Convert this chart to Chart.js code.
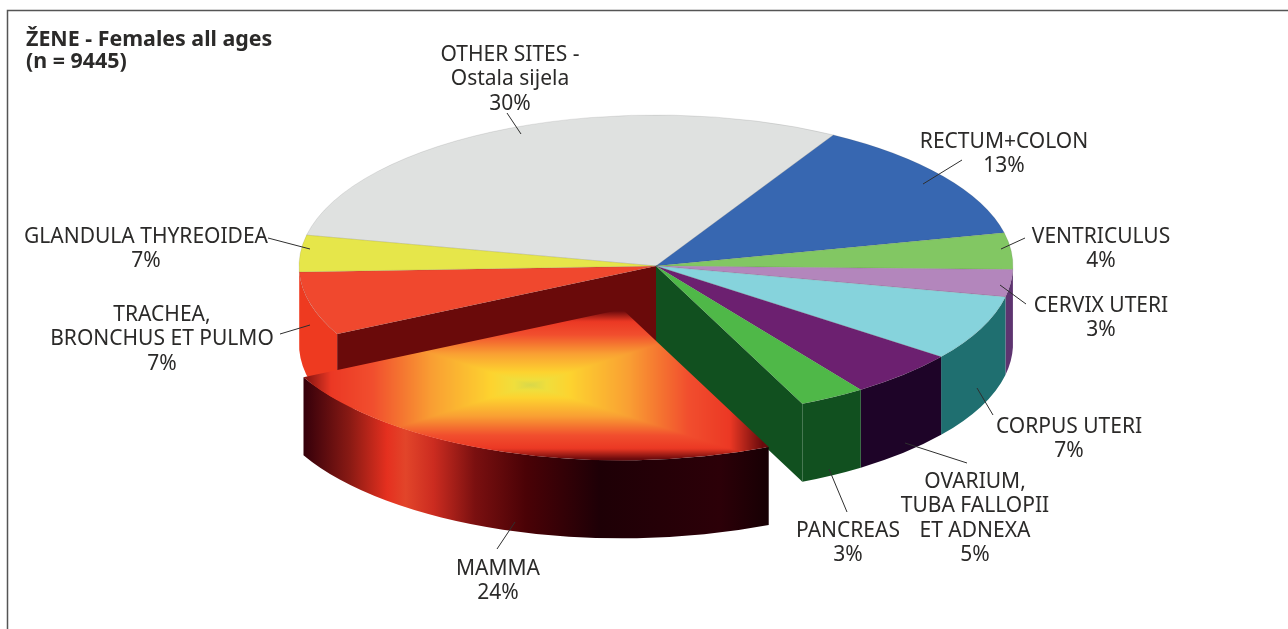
<!DOCTYPE html>
<html><head><meta charset="utf-8">
<style>html,body{margin:0;padding:0;background:#fff}canvas{display:block}</style>
<script src="https://cdn.jsdelivr.net/npm/chart.js@4"></script>
</head><body>
<canvas id="c" width="1288" height="629"></canvas>
<script>
const categories=["OTHER SITES - Ostala sijela","RECTUM+COLON","VENTRICULUS","CERVIX UTERI","CORPUS UTERI","OVARIUM, TUBA FALLOPII ET ADNEXA","PANCREAS","MAMMA","TRACHEA, BRONCHUS ET PULMO","GLANDULA THYREOIDEA"];
// slice sizes as drawn in the picture (share of the full circle)
const drawnShares=[30,13.2,3.9,2.9,7,5,3,24.3,6.8,3.9];
const printedShares=["30%","13%","4%","3%","7%","5%","3%","24%","7%","7%"];
const labelLines=[["OTHER SITES -","Ostala sijela"],["RECTUM+COLON"],["VENTRICULUS"],["CERVIX UTERI"],["CORPUS UTERI"],["OVARIUM,","TUBA FALLOPII","ET ADNEXA"],["PANCREAS"],["MAMMA"],["TRACHEA,","BRONCHUS ET PULMO"],["GLANDULA THYREOIDEA"]];
const topColors=["#dfe1e0","#3767b1","#82c763","#b386bc","#86d3dc","#6c2070","#4fb848",null,"#f0482e","#e6e64a"];
const sideColors=["#9a9c9b","#20406f","#3b6b2a","#5e3470","#1f6f70","#1e0428","#11501f",null,"#ee3a20","#f0482e"];
const wallColors={trachea:"#6a0a0a",pancreas:"#11501f"};
const titleLines=["ŽENE - Females all ages","(n = 9445)"];
// label layout: [centre x, first-line centre y], leader [x1,y1,x2,y2]
const labelPos=[[510,55],[1004,142],[1101,237],[1101,306],[1069,427],[975,482],[848,531],[498,569],[162,315],[146,237]];
const leaders=[[507,113,521,134],[962,160,923,184],[1025,238,1001,249],[1026,304,1000,285],[993,415,977,388],[967,463,905,443],[847,512,829,469],[497,549,515,522],[280,334,310,325],[268,238,310,249]];
const FONT='"Noto Sans"',FS=21,LH=24.5;
const G={cx:656,cy:266,rx:357,ry:151,depth:78,explodedIndex:7,explodeOption:243,nudge:[4,-1.5]};

// box-shaped gradient for the exploded slice, painted in page coordinates
const boxStops=[[0,[216,216,74]],[0.07,[240,222,60]],[0.17,[253,211,47]],[0.42,[249,160,51]],[0.68,[241,78,46]],[0.86,[235,56,36]],[1,[105,10,12]]];
function boxPattern(ctx){
  const off=document.createElement('canvas');off.width=1288;off.height=629;
  const o=off.getContext('2d'),im=o.createImageData(1288,629);
  for(let y=0;y<629;y++)for(let x=0;x<1288;x++){
    const t=Math.min(1,Math.max(Math.abs(x-534)/232,Math.abs(y-383)/74));
    let i=1;while(i<boxStops.length-1&&boxStops[i][0]<t)i++;
    const a=boxStops[i-1],b=boxStops[i],f=(t-a[0])/(b[0]-a[0]);
    const p=(y*1288+x)*4;
    for(let k=0;k<3;k++)im.data[p+k]=a[1][k]+(b[1][k]-a[1][k])*f;
    im.data[p+3]=255;
  }
  o.putImageData(im,0,0);
  return ctx.createPattern(off,'no-repeat');
}
const ctx2=document.getElementById('c').getContext('2d');
const mammaPattern=boxPattern(ctx2);
const fills=topColors.map(c=>c||mammaPattern);

const pie3d={
  id:'pie3d',
  afterDatasetsUpdate(chart){
    const arcs=chart.getDatasetMeta(0).data,R=arcs[0].outerRadius,ex=arcs[G.explodedIndex];
    ex.x=arcs[0].x+G.nudge[0]*R/G.rx;
    ex.y=arcs[0].y+G.nudge[1]*R/G.ry;
  },
  beforeDatasetsDraw(chart){
    const ctx=chart.ctx,arcs=chart.getDatasetMeta(0).data,R=arcs[0].outerRadius;
    const sx=G.rx/R,sy=G.ry/R,e0=arcs[0];
    const ex=arcs[G.explodedIndex];
    const shift=a=>{const m=(a.startAngle+a.endAngle)/2,d=(a.options.offset||0)/4;
      return [Math.cos(m)*d*sx+(a.x-e0.x)*sx,Math.sin(m)*d*sy+(a.y-e0.y)*sy];};
    const wall=(ang,col)=>{
      const px=G.cx+Math.cos(ang)*G.rx,py=G.cy+Math.sin(ang)*G.ry;
      ctx.fillStyle=col;ctx.beginPath();ctx.moveTo(G.cx,G.cy);ctx.lineTo(px,py);ctx.lineTo(px,py+G.depth);ctx.lineTo(G.cx,G.cy+G.depth);ctx.closePath();ctx.fill();
    };
    wall(ex.endAngle,wallColors.trachea);
    wall(ex.startAngle,wallColors.pancreas);
    const order=arcs.map((a,i)=>i).filter(i=>i!==G.explodedIndex).concat(G.explodedIndex);
    order.forEach(i=>{
      const a=arcs[i];
      const [dx,dy]=shift(a);
      const norm=x=>{const t=2*Math.PI;return ((x%t)+t)%t;};
      let s=norm(a.startAngle),e=s+(a.endAngle-a.startAngle);
      const ranges=[[Math.max(s,0),Math.min(e,Math.PI)],[Math.max(s,2*Math.PI),Math.min(e,3*Math.PI)]];
      ranges.forEach(([p,q])=>{
        if(q<=p)return;
        let fill=sideColors[i];
        if(i===G.explodedIndex){
          const g=ctx.createLinearGradient(304,0,766,0);
          [[0,"#35000a"],[0.1,"#8a1a14"],[0.18,"#e5301f"],[0.22,"#e2452a"],[0.28,"#cc2c20"],[0.37,"#7a1010"],[0.48,"#4a0206"],[0.64,"#1e0006"],[0.9,"#2c0008"],[1,"#180004"]].forEach(s=>g.addColorStop(s[0],s[1]));
          fill=g;
        }
        ctx.fillStyle=fill;ctx.beginPath();
        ctx.ellipse(G.cx+dx,G.cy+dy,G.rx,G.ry,0,p,q);
        ctx.ellipse(G.cx+dx,G.cy+dy+G.depth,G.rx,G.ry,0,q,p,true);
        ctx.closePath();ctx.fill();
      });
    });
    // squash the flat library pie into the tilted ellipse
    ctx.save();
    ctx.translate(G.cx,G.cy);ctx.scale(sx,sy);ctx.translate(-e0.x,-e0.y);
    const m=ctx.getTransform();
    const mid=(ex.startAngle+ex.endAngle)/2,d=(ex.options.offset||0)/4;
    const full=m.translate(ex.x-e0.x+Math.cos(mid)*d,ex.y-e0.y+Math.sin(mid)*d).inverse();
    mammaPattern.setTransform(full);
  },
  afterDatasetsDraw(chart){
    const ctx=chart.ctx;ctx.restore();
    ctx.strokeStyle="#2f2f2f";ctx.lineWidth=1;
    leaders.forEach(l=>{ctx.beginPath();ctx.moveTo(l[0],l[1]);ctx.lineTo(l[2],l[3]);ctx.stroke();});
    ctx.fillStyle="#2b2a29";ctx.textAlign="center";ctx.textBaseline="middle";
    ctx.font=FS+'px '+FONT;
    labelLines.forEach((ls,i)=>{
      const [x,y]=labelPos[i];
      ls.concat(printedShares[i]).forEach((t,j)=>ctx.fillText(t,x,y+j*LH));
    });
    ctx.textAlign="left";ctx.font='bold 21.4px '+FONT;
    titleLines.forEach((t,j)=>ctx.fillText(t,26,40+j*22));
    ctx.strokeStyle="#555";ctx.lineWidth=1.5;
    ctx.beginPath();ctx.moveTo(7.5,629);ctx.lineTo(7.5,10.5);ctx.lineTo(1288,10.5);ctx.stroke();
  }
};

new Chart(ctx2,{
  type:'pie',
  data:{labels:categories,datasets:[{data:drawnShares,backgroundColor:fills,
    borderWidth:drawnShares.map((v,i)=>i===G.explodedIndex?0:0.4),
    borderColor:"rgba(70,70,70,0.25)",
    offset:drawnShares.map((v,i)=>i===G.explodedIndex?G.explodeOption:0)}]},
  options:{responsive:false,animation:false,rotation:281.8,
    plugins:{legend:{display:false},tooltip:{enabled:false}},
    events:[]},
  plugins:[pie3d]
});
</script></body></html>
